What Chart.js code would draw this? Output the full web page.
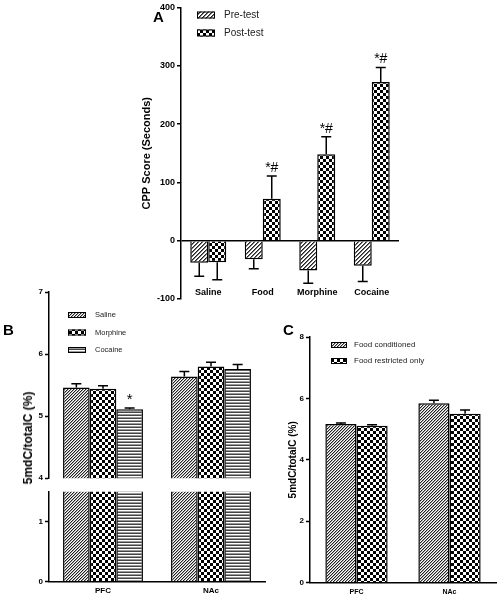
<!DOCTYPE html>
<html>
<head>
<meta charset="utf-8">
<script src="https://cdn.jsdelivr.net/npm/chart.js@4.4.1/dist/chart.umd.min.js"></script>
<style>
  body { margin: 0; background: #fff; }
  #page { position: relative; width: 499px; height: 603px; overflow: hidden; font-family: "Liberation Sans", Arial, sans-serif; }
  canvas { position: absolute; }
  .letter { position: absolute; font-weight: bold; color: #000; line-height: 1; }
  .ytitle { position: absolute; font-weight: bold; font-size: 12px; white-space: nowrap; transform: translate(-50%, -50%) rotate(-90deg); }
</style>
</head>
<body>
<div id="page">
  <canvas id="chartA" width="270" height="312" style="left:140px;top:0px"></canvas>
  <canvas id="chartBTop" width="270" height="205" style="left:0px;top:280px"></canvas>
  <canvas id="chartBBottom" width="270" height="118" style="left:0px;top:485px"></canvas>
  <canvas id="chartC" width="249" height="283" style="left:250px;top:320px"></canvas>
  <div class="letter" style="left:153px;top:9px;font-size:15px">A</div>
  <div class="letter" style="left:3px;top:322px;font-size:15px">B</div>
  <div class="letter" style="left:283px;top:322px;font-size:15px">C</div>
  <div class="ytitle" style="left:28px;top:438px">5mdC/totalC (%)</div>
</div>
<script>
// panel A - CPP scores
const cppGroups = ['Saline', 'Food', 'Morphine', 'Cocaine'];
const cppPre = [-38, -32, -51, -43];
const cppPreErr = [23, 16, 22, 27];
const cppPost = [-37, 72, 148, 272];
const cppPostErr = [30, 39, 30, 25];
const cppPostMarks = ['', '*#', '*#', '*#'];

// panel B - 5mdC by drug
const regionsB = ['PFC', 'NAc'];
const salineB = [5.46, 5.64];
const salineBErr = [0.06, 0.08];
const morphineB = [5.44, 5.80];
const morphineBErr = [0.05, 0.07];
const cocaineB = [5.11, 5.76];
const cocaineBErr = [0.02, 0.07];
const cocaineBMarks = ['*', ''];

// panel C - food
const regionsC = ['PFC', 'NAc'];
const foodCond = [5.17, 5.84];
const foodCondErr = [0.03, 0.10];
const foodRestr = [5.11, 5.50];
const foodRestrErr = [0.03, 0.12];

Chart.defaults.font.family = '"Liberation Sans", Arial, sans-serif';
Chart.defaults.color = '#000';

// fill patterns
function tile(w, h, paint) {
    const c = document.createElement('canvas');
    c.width = w; c.height = h;
    const g = c.getContext('2d');
    g.fillStyle = '#fff';
    g.fillRect(0, 0, w, h);
    paint(g);
    return g.createPattern(c, 'repeat');
}
// "/" hatching, one dark and one softer pixel per row
function diag(n, dark, soft) {
    return tile(n, n, g => {
        for (let i = 0; i < n; i++) {
            g.fillStyle = dark;
            g.fillRect(i, n - 1 - i, 1, 1);
            g.fillStyle = soft;
            g.fillRect((i + 1) % n, n - 1 - i, 1, 1);
        }
    });
}
function checker(c) {
    return tile(2 * c, 2 * c, g => {
        g.fillStyle = '#000';
        g.fillRect(0, 0, c, c);
        g.fillRect(c, c, c, c);
    });
}
function hlines() {
    return tile(1, 3, g => {
        g.fillStyle = '#444';
        g.fillRect(0, 0, 1, 1);
        g.fillStyle = '#999';
        g.fillRect(0, 2, 1, 1);
    });
}

const errorBars = {
    id: 'errorBars',
    afterDatasetsDraw(chart, args, opts) {
        if (!opts.show) return;
        const ctx = chart.ctx, y = chart.scales.y;
        ctx.save();
        ctx.strokeStyle = '#000';
        ctx.fillStyle = '#000';
        ctx.lineWidth = 1.5;
        chart.data.datasets.forEach((ds, i) => {
            if (!ds.errors) return;
            chart.getDatasetMeta(i).data.forEach((bar, j) => {
                const v = ds.data[j];
                const end = v + (v < 0 ? -ds.errors[j] : ds.errors[j]);
                const y0 = y.getPixelForValue(v), y1 = y.getPixelForValue(end);
                ctx.beginPath();
                ctx.moveTo(bar.x, y0);
                ctx.lineTo(bar.x, y1);
                ctx.moveTo(bar.x - opts.cap / 2, y1);
                ctx.lineTo(bar.x + opts.cap / 2, y1);
                ctx.stroke();
                if (ds.marks && ds.marks[j]) {
                    ctx.font = opts.markFont;
                    ctx.textAlign = 'center';
                    ctx.textBaseline = 'bottom';
                    ctx.fillText(ds.marks[j], bar.x, y1 - 1);
                }
            });
        });
        ctx.restore();
    }
};

const boxLegend = {
    id: 'boxLegend',
    afterDraw(chart, args, opts) {
        if (!opts.show) return;
        const ctx = chart.ctx;
        ctx.save();
        chart.data.datasets.forEach((ds, k) => {
            const cy = opts.y + k * opts.gap;
            ctx.fillStyle = ds.backgroundColor;
            ctx.fillRect(opts.x, cy - opts.h / 2, opts.w, opts.h);
            ctx.strokeStyle = '#000';
            ctx.lineWidth = 1;
            ctx.strokeRect(opts.x + 0.5, cy - opts.h / 2 + 0.5, opts.w - 1, opts.h - 1);
            ctx.fillStyle = '#222';
            ctx.font = opts.font;
            ctx.textAlign = 'left';
            ctx.textBaseline = 'middle';
            ctx.fillText(ds.label, opts.textX, cy);
        });
        ctx.restore();
    }
};

// category names sit at the bottom of panel A, inside the plot
const bottomLabels = {
    id: 'bottomLabels',
    afterDraw(chart, args, opts) {
        if (!opts.show) return;
        const ctx = chart.ctx, x = chart.scales.x;
        ctx.save();
        ctx.font = 'bold 9px "Liberation Sans", Arial';
        ctx.fillStyle = '#000';
        ctx.textAlign = 'center';
        ctx.textBaseline = 'middle';
        chart.data.labels.forEach((l, i) => ctx.fillText(l, x.getPixelForValue(i), chart.chartArea.bottom - 6));
        ctx.restore();
    }
};

function yAxis(min, max, step, width, extra) {
    return Object.assign({
        min: min, max: max,
        afterFit: s => { s.width = width; },
        ticks: { stepSize: step, font: { size: 8, weight: 'bold' }, padding: 2 },
        border: { display: true, color: '#000', width: 1.5 },
        grid: { drawOnChartArea: false, tickLength: 4, tickColor: '#000', tickWidth: 1.5 }
    }, extra || {});
}

const commonOpts = {
    responsive: false,
    animation: false,
    devicePixelRatio: 1,
};

// Panel A
new Chart(document.getElementById('chartA'), {
    type: 'bar',
    data: {
        labels: cppGroups,
        datasets: [
            { label: 'Pre-test', data: cppPre, errors: cppPreErr, backgroundColor: diag(4, '#222', '#777') },
            { label: 'Post-test', data: cppPost, errors: cppPostErr, marks: cppPostMarks, backgroundColor: checker(3) }
        ]
    },
    options: Object.assign({}, commonOpts, {
        layout: { padding: { top: 6, right: 11, bottom: 13, left: 0 } },
        datasets: { bar: { categoryPercentage: 0.66, barPercentage: 1, borderColor: '#000', borderWidth: 1.5 } },
        scales: {
            x: { display: false },
            y: yAxis(-100, 400, 100, 41, {
                ticks: { stepSize: 100, font: { size: 9, weight: 'bold' }, padding: 2 },
                title: { display: true, text: 'CPP Score (Seconds)', font: { size: 11, weight: 'bold' }, padding: 0 },
                grid: {
                    drawOnChartArea: true, tickLength: 4, tickColor: '#000', tickWidth: 1.5, lineWidth: 1.5,
                    color: c => (c.tick && c.tick.value === 0) ? '#000' : 'rgba(0,0,0,0)'
                }
            })
        },
        plugins: {
            legend: { display: false }, tooltip: { enabled: false },
            errorBars: { show: true, cap: 10, markFont: '14px "Liberation Sans", Arial' },
            boxLegend: { show: true, x: 57, y: 15, gap: 18, w: 18, h: 7, textX: 84, font: '10px "Liberation Sans", Arial' },
            bottomLabels: { show: true }
        }
    }),
    plugins: [errorBars, boxLegend, bottomLabels]
});

// Panel B, upper segment of the broken axis
const bDatasets = () => [
    { label: 'Saline', data: salineB, errors: salineBErr, backgroundColor: diag(3, '#222', '#aaa'), clip: 0 },
    { label: 'Morphine', data: morphineB, errors: morphineBErr, backgroundColor: checker(3), clip: 0 },
    { label: 'Cocaine', data: cocaineB, errors: cocaineBErr, marks: cocaineBMarks, backgroundColor: hlines(), clip: 0 }
];
const bBar = { bar: { categoryPercentage: 0.74, barPercentage: 1, borderColor: '#000', borderWidth: 1.5 } };

new Chart(document.getElementById('chartBTop'), {
    type: 'bar',
    data: { labels: regionsB, datasets: bDatasets() },
    options: Object.assign({}, commonOpts, {
        layout: { padding: { top: 12, right: 5, bottom: 6, left: 0 } },
        datasets: bBar,
        scales: {
            x: { display: false },
            y: yAxis(4, 7, 1, 49)
        },
        plugins: {
            legend: { display: false }, tooltip: { enabled: false },
            errorBars: { show: true, cap: 10, markFont: '15px "Liberation Sans", Arial' },
            boxLegend: { show: true, x: 68, y: 35, gap: 17.5, w: 18, h: 6, textX: 95, font: '7.5px "Liberation Sans", Arial' }
        }
    }),
    plugins: [errorBars, boxLegend]
});

// Panel B, lower segment
new Chart(document.getElementById('chartBBottom'), {
    type: 'bar',
    data: { labels: regionsB, datasets: bDatasets() },
    options: Object.assign({}, commonOpts, {
        layout: { padding: { top: 6, right: 5, bottom: 2, left: 0 } },
        datasets: bBar,
        scales: {
            x: {
                ticks: { font: { size: 8, weight: 'bold' }, padding: 5 },
                grid: { display: false, drawTicks: false },
                border: { display: true, color: '#000', width: 1.5 }
            },
            y: yAxis(0, 1.5, 1, 49, {
                afterBuildTicks: s => { s.ticks = s.ticks.filter(t => Number.isInteger(t.value)); }
            })
        },
        plugins: { legend: { display: false }, tooltip: { enabled: false } }
    })
});

// Panel C
new Chart(document.getElementById('chartC'), {
    type: 'bar',
    data: {
        labels: regionsC,
        datasets: [
            { label: 'Food conditioned', data: foodCond, errors: foodCondErr, backgroundColor: diag(3, '#222', '#aaa') },
            { label: 'Food restricted only', data: foodRestr, errors: foodRestrErr, backgroundColor: checker(3) }
        ]
    },
    options: Object.assign({}, commonOpts, {
        layout: { padding: { top: 17, right: 3, bottom: 2, left: 0 } },
        datasets: { bar: { categoryPercentage: 0.67, barPercentage: 1, borderColor: '#000', borderWidth: 1.5 } },
        scales: {
            x: {
                ticks: { font: { size: 7, weight: 'bold' }, padding: 5 },
                grid: { display: false, drawTicks: false },
                border: { display: true, color: '#000', width: 1.5 }
            },
            y: yAxis(0, 8, 2, 60, {
                title: { display: true, text: '5mdC/totalC (%)', font: { size: 10, weight: 'bold' }, padding: { top: 37 } }
            })
        },
        plugins: {
            legend: { display: false }, tooltip: { enabled: false },
            errorBars: { show: true, cap: 10, markFont: '14px "Liberation Sans", Arial' },
            boxLegend: { show: true, x: 81, y: 25, gap: 16, w: 16, h: 6, textX: 104, font: '8px "Liberation Sans", Arial' }
        }
    }),
    plugins: [errorBars, boxLegend]
});
</script>
</body>
</html>
